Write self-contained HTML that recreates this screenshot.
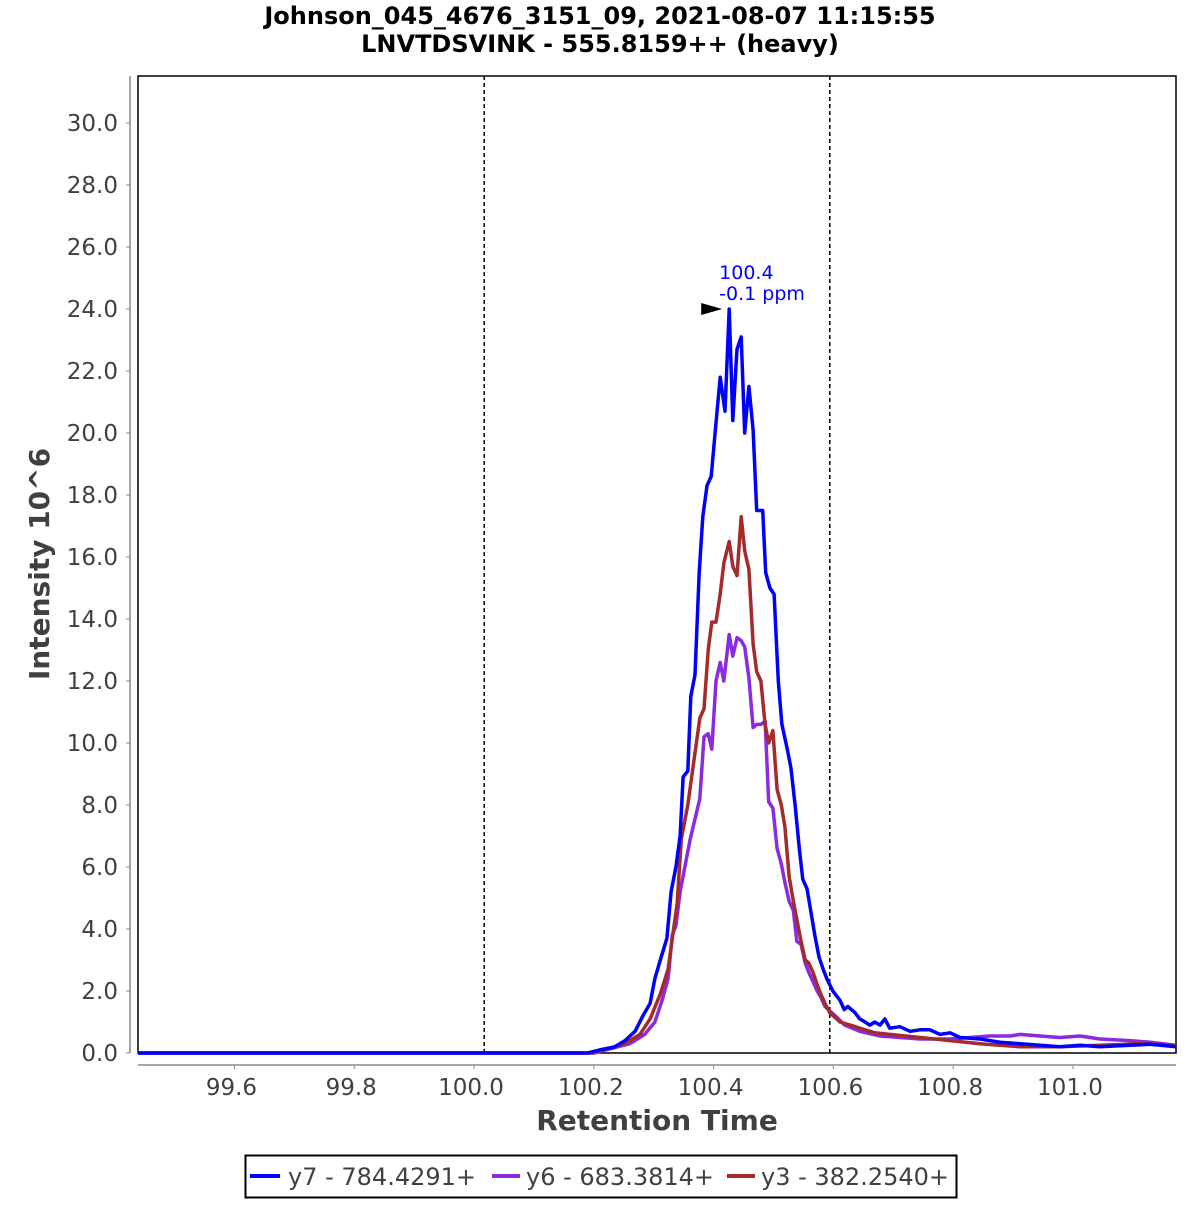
<!DOCTYPE html>
<html><head><meta charset="utf-8"><style>
body{margin:0;background:#fff;}
svg text{font-family:"DejaVu Sans","Liberation Sans",sans-serif;}
</style></head><body>
<svg id="chart" width="1200" height="1200" xmlns="http://www.w3.org/2000/svg">
<rect width="1200" height="1200" fill="#fff"/>
<text x="600" y="24" text-anchor="middle" font-size="24" font-weight="bold">Johnson_045_4676_3151_09, 2021-08-07 11:15:55</text>
<text x="600" y="52" text-anchor="middle" font-size="24" font-weight="bold">LNVTDSVINK - 555.8159++ (heavy)</text>
<rect x="138" y="76" width="1038" height="977" fill="#fff" stroke="#000" stroke-width="1.5"/>
<line x1="130" y1="76" x2="130" y2="1053" stroke="#888" stroke-width="1.5"/>
<line x1="138" y1="1065" x2="1176" y2="1065" stroke="#888" stroke-width="1.5"/>
<g id="yticks"></g><g id="xticks"></g>
<g id="series"></g>
<text transform="translate(49,564) rotate(-90)" text-anchor="middle" font-size="28" font-weight="bold" fill="#404040">Intensity 10^6</text>
<text x="657" y="1130" text-anchor="middle" font-size="28" font-weight="bold" fill="#404040">Retention Time</text>
<g>
<rect x="245.5" y="1155.5" width="711" height="42" fill="#fff" stroke="#000" stroke-width="2"/>
<line x1="250" y1="1176" x2="280" y2="1176" stroke="#0000ff" stroke-width="4"/>
<text x="288" y="1185" font-size="24" fill="#404040">y7 - 784.4291+</text>
<line x1="492" y1="1176" x2="520" y2="1176" stroke="#8a2be2" stroke-width="4"/>
<text x="526" y="1185" font-size="24" fill="#404040">y6 - 683.3814+</text>
<line x1="727" y1="1176" x2="755" y2="1176" stroke="#a52a2a" stroke-width="4"/>
<text x="761" y="1185" font-size="24" fill="#404040">y3 - 382.2540+</text>
</g>
</svg>
<script>
const yTicks=[0,2,4,6,8,10,12,14,16,18,20,22,24,26,28,30];
const xTicks=[99.6,99.8,100.0,100.2,100.4,100.6,100.8,101.0];
const boundaries=[100.017,100.594];
const peakApex=[100.426,24.0];
const y7T=[99.439,100.19,100.210,100.235,100.252,100.269,100.282,100.294,100.302,100.311,100.322,100.329,100.337,100.344,100.349,100.357,100.362,100.369,100.376,100.382,100.389,100.396,100.402,100.411,100.419,100.426,100.432,100.439,100.446,100.452,100.459,100.466,100.472,100.482,100.487,100.494,100.501,100.508,100.514,100.523,100.529,100.536,100.543,100.549,100.556,100.563,100.569,100.576,100.583,100.589,100.599,100.611,100.618,100.624,100.636,100.644,100.653,100.661,100.669,100.678,100.686,100.694,100.711,100.728,100.745,100.761,100.778,100.795,100.811,100.845,100.878,100.912,100.945,100.978,101.012,101.045,101.095,101.129,101.172];
const y7V=[0,0,0.1,0.2,0.4,0.7,1.2,1.6,2.4,3.0,3.7,5.2,6.0,7.0,8.9,9.1,11.5,12.2,15.5,17.3,18.3,18.6,19.9,21.8,20.7,24.0,20.4,22.7,23.1,20.0,21.5,20.1,17.5,17.5,15.5,15.0,14.8,12.0,10.6,9.8,9.2,8.0,6.6,5.6,5.3,4.5,3.8,3.1,2.7,2.4,2.0,1.7,1.4,1.5,1.3,1.1,1.0,0.9,1.0,0.9,1.1,0.8,0.85,0.7,0.75,0.75,0.6,0.65,0.5,0.45,0.35,0.3,0.25,0.2,0.25,0.2,0.25,0.28,0.2];
const y6T=[99.439,100.2,100.260,100.285,100.302,100.314,100.324,100.331,100.337,100.344,100.361,100.377,100.384,100.391,100.397,100.404,100.411,100.417,100.426,100.432,100.439,100.446,100.452,100.459,100.466,100.472,100.479,100.486,100.492,100.499,100.506,100.513,100.519,100.526,100.533,100.539,100.546,100.553,100.559,100.566,100.573,100.579,100.586,100.603,100.619,100.644,100.678,100.711,100.745,100.795,100.828,100.861,100.895,100.912,100.945,100.978,101.012,101.045,101.095,101.129,101.172];
const y6V=[0,0,0.3,0.6,1.0,1.7,2.4,3.8,4.1,5.2,6.9,8.2,10.2,10.3,9.8,12.0,12.6,12.0,13.5,12.8,13.4,13.3,13.1,12.1,10.5,10.6,10.6,10.7,8.1,7.9,6.6,6.1,5.5,4.9,4.6,3.6,3.5,2.9,2.6,2.3,2.0,1.8,1.5,1.2,0.9,0.7,0.55,0.5,0.45,0.45,0.5,0.55,0.55,0.6,0.55,0.5,0.55,0.45,0.4,0.35,0.25];
const y3T=[99.439,100.2,100.252,100.277,100.294,100.311,100.324,100.331,100.339,100.346,100.357,100.377,100.384,100.391,100.397,100.404,100.411,100.417,100.426,100.432,100.439,100.446,100.452,100.459,100.466,100.472,100.479,100.486,100.492,100.499,100.506,100.513,100.519,100.526,100.533,100.539,100.546,100.553,100.559,100.566,100.573,100.579,100.586,100.594,100.611,100.628,100.644,100.669,100.694,100.745,100.795,100.845,100.878,100.912,100.945,100.978,101.045,101.112,101.172];
const y3V=[0,0,0.3,0.6,1.1,1.9,2.7,3.7,4.8,6.9,8.0,10.8,11.1,13.0,13.9,13.9,14.8,15.8,16.5,15.7,15.4,17.3,16.2,15.6,13.2,12.3,12.0,10.6,10.0,10.4,8.5,8.0,7.3,5.7,4.9,4.3,3.6,3.0,2.9,2.6,2.2,1.9,1.6,1.3,1.0,0.9,0.8,0.65,0.6,0.5,0.4,0.3,0.25,0.2,0.2,0.2,0.25,0.3,0.25];

const NS='http://www.w3.org/2000/svg';
const X0=138,X1=1176,Y0=1053,Y1=76;
const xMin=99.439,xMax=101.172;
const xs=t=>X0+(t-xMin)/(xMax-xMin)*(X1-X0);
const ys=v=>Y0-v*31;
function mk(tag,attrs,parent){const e=document.createElementNS(NS,tag);for(const k in attrs)e.setAttribute(k,attrs[k]);parent.appendChild(e);return e;}
const yg=document.getElementById('yticks'),xg=document.getElementById('xticks'),sg=document.getElementById('series');
yTicks.forEach(v=>{
  const l=mk('line',{x1:126,x2:130,y1:ys(v),y2:ys(v),stroke:'#888'},yg);
  
  
  const t=mk('text',{x:118,y:ys(v)+8,'text-anchor':'end','font-size':23,fill:'#404040'},yg);
  
  
  t.textContent=v.toFixed(1);
});
xTicks.forEach(v=>{
  const l=mk('line',{x1:xs(v),x2:xs(v),y1:1065,y2:1069,stroke:'#888'},xg);
  
  
  const t=mk('text',{x:xs(v)-3,y:1095,'text-anchor':'middle','font-size':23,fill:'#404040'},xg);
  
  
  t.textContent=v.toFixed(1);
});
boundaries.forEach(b=>{
  const l=mk('line',{x1:xs(b),x2:xs(b),y1:Y1,y2:Y0,stroke:'#000','stroke-width':1.5,'stroke-dasharray':'4,3'},sg);
  
  
});
function series(T,V,color,name){
  const p=mk('polyline',{points:T.map((t,i)=>xs(t).toFixed(1)+','+ys(V[i]).toFixed(1)).join(' '),fill:'none',stroke:color,'stroke-width':3.5,'stroke-linejoin':'round'},sg);
  
  
}
series(y6T,y6V,'#8a2be2','series-y6');
series(y3T,y3V,'#a52a2a','series-y3');
series(y7T,y7V,'#0000ff','series-y7');
const ax=xs(peakApex[0]),ay=ys(peakApex[1]);
const arr=mk('polygon',{points:`${ax-28},${ay-6} ${ax-28},${ay+6} ${ax-7},${ay}`,fill:'#000'},sg);


const a1=mk('text',{x:ax-10,y:ay-30,'font-size':19,fill:'#0000ff'},sg);


a1.textContent=peakApex[0].toFixed(1);
const a2=mk('text',{x:ax-10,y:ay-9,'font-size':19,fill:'#0000ff'},sg);


a2.textContent='-0.1 ppm';
</script>
</body></html>
